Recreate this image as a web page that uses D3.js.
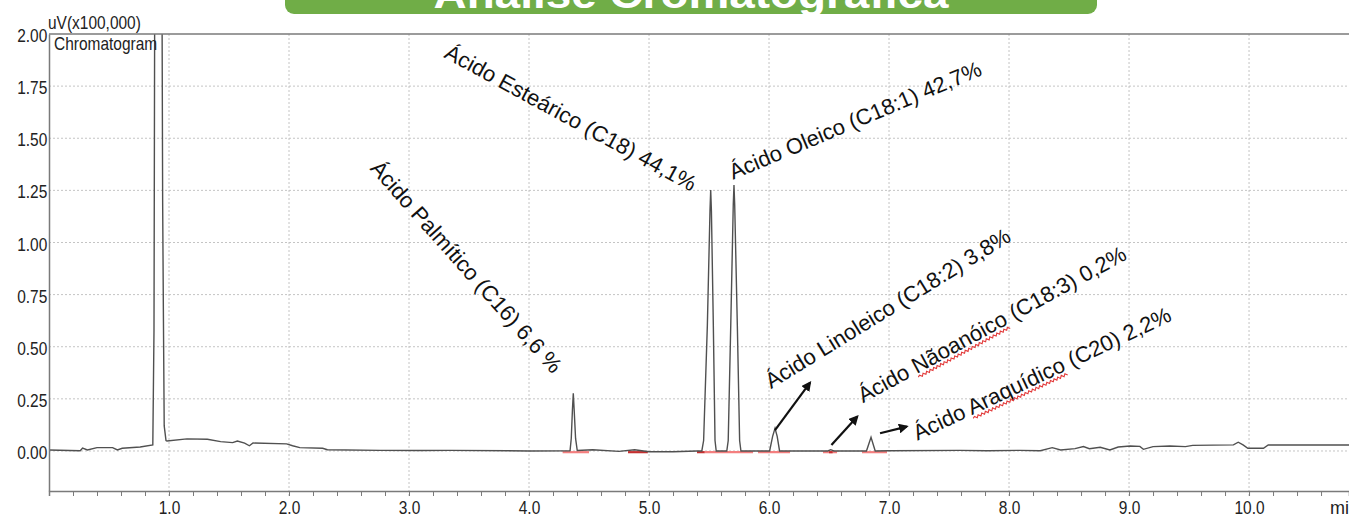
<!DOCTYPE html>
<html>
<head>
    <title>Análise Cromatográfica</title>
    <script src="https://cdnjs.cloudflare.com/ajax/libs/d3/7.8.5/d3.min.js"></script>
    <style>
        body { margin: 0; background: white; overflow: hidden; }
        svg { display: block; font-family: "Liberation Sans", Arial, sans-serif; }
        .grid line { stroke: #c4c4c4; stroke-dasharray: 2,2; }
        .axis path, .axis line { stroke: #7a7a7a; }
        .axis text { fill: #222; font-size: 18px; }
        .trace { fill: none; stroke: #505050; stroke-width: 1.4px; }
        .peak-label { font-size: 22px; fill: #111; }
        .squiggle { fill: none; stroke: #e23b3b; stroke-width: 1.1px; }
    </style>
</head>
<body>
    <svg id="chart"></svg>

    <script>
        const width = 1349;
        const height = 516;

        // chromatogram trace: [time (min), signal (uV x 100,000)]
        const baselineStart = [
            [0.00, 0.005], [0.26, 0.001], [0.28, 0.014], [0.32, 0.005], [0.40, 0.016],
            [0.53, 0.016], [0.57, 0.005], [0.61, 0.013], [0.76, 0.019], [0.865, 0.029]
        ];
        const solventPeak = [
            [0.875, 0.58], [0.882, 2.5], [0.940, 2.5], [0.947, 1.2], [0.953, 0.68],
            [0.960, 0.12], [0.975, 0.05]
        ];
        const baselineTail = [
            [0.983, 0.048], [1.15, 0.058], [1.32, 0.056], [1.43, 0.045], [1.53, 0.040],
            [1.57, 0.048], [1.63, 0.038], [1.67, 0.025], [1.70, 0.038], [1.98, 0.034],
            [2.03, 0.025], [2.09, 0.016], [2.28, 0.013], [2.32, 0.006], [2.76, 0.003],
            [3.09, 0.002], [3.34, 0.003], [4.00, 0.000], [4.34, 0.001]
        ];
        const palmitic = [
            [4.342, 0.002], [4.352, 0.06], [4.362, 0.20], [4.369, 0.277], [4.376, 0.20],
            [4.388, 0.06], [4.402, 0.002]
        ];
        const midBaseline = [
            [4.53, 0.006], [4.75, -0.002], [4.88, 0.006], [5.00, -0.004], [5.20, -0.004], [5.40, 0.000]
        ];
        const stearic = [
            [5.440, 0.0], [5.455, 0.05], [5.486, 0.6], [5.508, 1.15], [5.514, 1.252],
            [5.520, 1.15], [5.536, 0.6], [5.550, 0.05], [5.560, 0.0]
        ];
        const oleic = [
            [5.648, 0.0], [5.660, 0.05], [5.681, 0.6], [5.702, 1.18], [5.708, 1.276],
            [5.714, 1.18], [5.736, 0.6], [5.755, 0.05], [5.766, 0.0]
        ];
        const linoleic = [
            [5.90, 0.0], [6.005, 0.0], [6.030, 0.07], [6.050, 0.109], [6.068, 0.07], [6.088, 0.0]
        ];
        const linolenic = [[6.30, 0.0], [6.49, 0.0], [6.514, 0.006], [6.54, 0.0]];
        const arachidic = [[6.812, 0.0], [6.850, 0.066], [6.885, 0.0], [7.00, 0.001]];
        const baselineEnd = [
            [7.59, 0.003], [7.82, 0.001], [8.09, 0.003], [8.26, 0.001], [8.36, 0.016],
            [8.43, 0.005], [8.55, 0.011], [8.62, 0.021], [8.67, 0.011], [8.76, 0.018],
            [8.84, 0.005], [8.91, 0.019], [9.01, 0.024], [9.09, 0.022], [9.12, 0.008],
            [9.20, 0.021], [9.34, 0.024], [9.47, 0.021], [9.53, 0.027], [9.87, 0.029],
            [9.91, 0.042], [9.95, 0.029], [9.99, 0.013], [10.12, 0.013], [10.16, 0.029],
            [10.90, 0.029]
        ];

        // integration marks under the peaks [start, end, dark?]
        const integrations = [
            [4.28, 4.50, false], [4.825, 4.99, true], [5.40, 5.465, true], [5.465, 5.867, false],
            [5.908, 6.175, false], [6.45, 6.567, false], [6.50, 6.53, true], [6.775, 6.983, false]
        ];

        // peak labels: text parts (2nd part gets the spell-check squiggle), centre time, centre value, angle
        const labelText = [
            ["Ácido Palmítico (C16) 6,6 %"],
            ["Ácido Esteárico (C18) 44,1%"],
            ["Ácido Oleico (C18:1) 42,7%"],
            ["Ácido Linoleico (C18:2) 3,8%"],
            ["Ácido ", "Nãoanóico", " (C18:3) 0,2%"],
            ["Ácido ", "Araquídico", " (C20) 2,2%"]
        ];
        const labelTime = [3.48, 4.35, 6.717, 6.988, 7.856, 8.273];
        const labelValue = [0.885, 1.60, 1.588, 0.686, 0.609, 0.373];
        const labelAngle = [48.3, 28.5, -22.8, -31.7, -28.6, -25.3];

        // arrows: [from time, from value, to time, to value]
        const arrows = [
            [6.05, 0.10, 6.342, 0.328],
            [6.52, 0.029, 6.736, 0.165],
            [6.925, 0.085, 7.148, 0.117]
        ];

        const yTicks = [0, 0.25, 0.5, 0.75, 1.0, 1.25, 1.5, 1.75, 2.0];
        const xTicks = [1, 2, 3, 4, 5, 6, 7, 8, 9, 10];
        const xMinorTicks = d3.range(0, 54).map(i => +(i * 0.2).toFixed(1));

        const margin = {left: 49, top: 34, bottom: 25};
        const plotBottom = height - margin.bottom;

        const x = d3.scaleLinear().domain([0, 10.833]).range([margin.left, width]);
        const y = d3.scaleLinear().domain([-0.192, 2.0]).range([plotBottom, margin.top]);

        const svg = d3.select("#chart").attr("width", width).attr("height", height);

        const defs = svg.append("defs");
        defs.append("clipPath").attr("id", "plot-clip")
            .append("rect")
            .attr("x", margin.left).attr("y", margin.top)
            .attr("width", width - margin.left).attr("height", plotBottom - margin.top);

        defs.append("marker")
            .attr("id", "arrowhead")
            .attr("viewBox", "0 0 10 10")
            .attr("refX", 8).attr("refY", 5)
            .attr("markerWidth", 4.5).attr("markerHeight", 4.5)
            .attr("orient", "auto")
            .append("path").attr("d", "M0,0 L10,5 L0,10 z").attr("fill", "#111");

        // grid
        const grid = svg.append("g").attr("class", "grid");
        grid.selectAll(".h").data(yTicks.filter(d => d < 2)).join("line")
            .attr("x1", margin.left).attr("x2", width)
            .attr("y1", d => y(d)).attr("y2", d => y(d));
        grid.selectAll(".v").data(xTicks).join("line")
            .attr("x1", d => x(d)).attr("x2", d => x(d))
            .attr("y1", margin.top).attr("y2", plotBottom + 5);

        // integration marks
        svg.append("g").selectAll("line").data(integrations).join("line")
            .attr("x1", d => x(d[0])).attr("x2", d => x(d[1]))
            .attr("y1", y(0) + 1.2).attr("y2", y(0) + 1.2)
            .attr("stroke", d => d[2] ? "#c43030" : "#f47f7f")
            .attr("stroke-width", 2.2);

        // trace
        const trace = [].concat(baselineStart, solventPeak, baselineTail, palmitic, midBaseline,
            stearic, oleic, linoleic, linolenic, arachidic, baselineEnd);
        const line = d3.line().x(d => x(d[0])).y(d => y(d[1]));
        svg.append("path")
            .attr("class", "trace")
            .attr("clip-path", "url(#plot-clip)")
            .attr("d", line(trace));

        // axes
        const yAxis = svg.append("g").attr("class", "axis")
            .attr("transform", `translate(${margin.left},0)`)
            .call(d3.axisLeft(y).tickValues(yTicks).tickFormat(d3.format(".2f")).tickSize(0).tickPadding(2));
        yAxis.select(".domain").attr("stroke-width", 1.5);
        yAxis.selectAll("text").attr("dy", "0.42em").attr("transform", "scale(0.86,1)");

        const xMinor = svg.append("g").attr("class", "axis")
            .attr("transform", `translate(0,${plotBottom})`)
            .call(d3.axisBottom(x).tickValues(xMinorTicks).tickFormat("").tickSizeOuter(0).tickSize(5));
        xMinor.select(".domain").attr("stroke-width", 1.5);

        const xAxis = svg.append("g").attr("class", "axis")
            .attr("transform", `translate(0,${plotBottom})`)
            .call(d3.axisBottom(x).tickValues(xTicks).tickFormat(d3.format(".1f")).tickSize(0).tickPadding(10));
        xAxis.select(".domain").remove();
        xAxis.selectAll("text").attr("transform", "scale(0.86,1)");

        svg.append("text")
            .attr("x", 1330).attr("y", plotBottom + 23)
            .attr("font-size", 18).attr("fill", "#222")
            .text("min");

        // top border
        svg.append("line")
            .attr("x1", margin.left).attr("x2", width)
            .attr("y1", margin.top).attr("y2", margin.top)
            .attr("stroke", "#7a7a7a").attr("stroke-width", 1.5);

        svg.append("text")
            .attr("transform", `translate(${margin.left - 1},29) scale(0.86,1)`)
            .attr("font-size", 18).attr("fill", "#222")
            .text("uV(x100,000)");
        svg.append("text")
            .attr("transform", `translate(${margin.left + 5},50) scale(0.86,1)`)
            .attr("font-size", 18).attr("fill", "#222")
            .text("Chromatogram");

        // peak labels
        const labelGroups = svg.append("g").selectAll("g").data(labelText).join("g")
            .attr("transform", (d, i) => `translate(${x(labelTime[i])},${y(labelValue[i])}) rotate(${labelAngle[i]})`);
        const labels = labelGroups.append("text")
            .attr("class", "peak-label")
            .attr("text-anchor", "middle")
            .attr("y", 8);
        labels.selectAll("tspan").data(d => d).join("tspan").text(d => d);

        // red spell-check squiggle under the 2nd text part
        labelGroups.each(function(parts) {
            if (parts.length < 2) return;
            const textNode = d3.select(this).select("text").node();
            const first = parts[0].length;
            const last = first + parts[1].length - 1;
            const p0 = textNode.getStartPositionOfChar(first);
            const p1 = textNode.getEndPositionOfChar(last);
            const yb = p0.y + 3.5;
            let d = `M${p0.x},${yb}`;
            let up = true;
            for (let px = p0.x + 2; px <= p1.x; px += 2) {
                d += ` L${px},${yb + (up ? -1.2 : 1.2)}`;
                up = !up;
            }
            d3.select(this).append("path").attr("class", "squiggle").attr("d", d);
        });

        // arrows
        svg.append("g").selectAll("line").data(arrows).join("line")
            .attr("x1", d => x(d[0])).attr("y1", d => y(d[1]))
            .attr("x2", d => x(d[2])).attr("y2", d => y(d[3]))
            .attr("stroke", "#111").attr("stroke-width", 2.2)
            .attr("marker-end", "url(#arrowhead)");

        // title banner (cut by the top of the picture)
        svg.append("rect")
            .attr("x", 285).attr("y", -30).attr("width", 812).attr("height", 44)
            .attr("rx", 9).attr("fill", "#70ad47");
        svg.append("text")
            .attr("x", 691).attr("y", 8)
            .attr("text-anchor", "middle")
            .attr("font-size", 40).attr("font-weight", "bold").attr("fill", "white")
            .attr("textLength", 515).attr("lengthAdjust", "spacingAndGlyphs")
            .text("Análise Cromatográfica");
    </script>
</body>
</html>
